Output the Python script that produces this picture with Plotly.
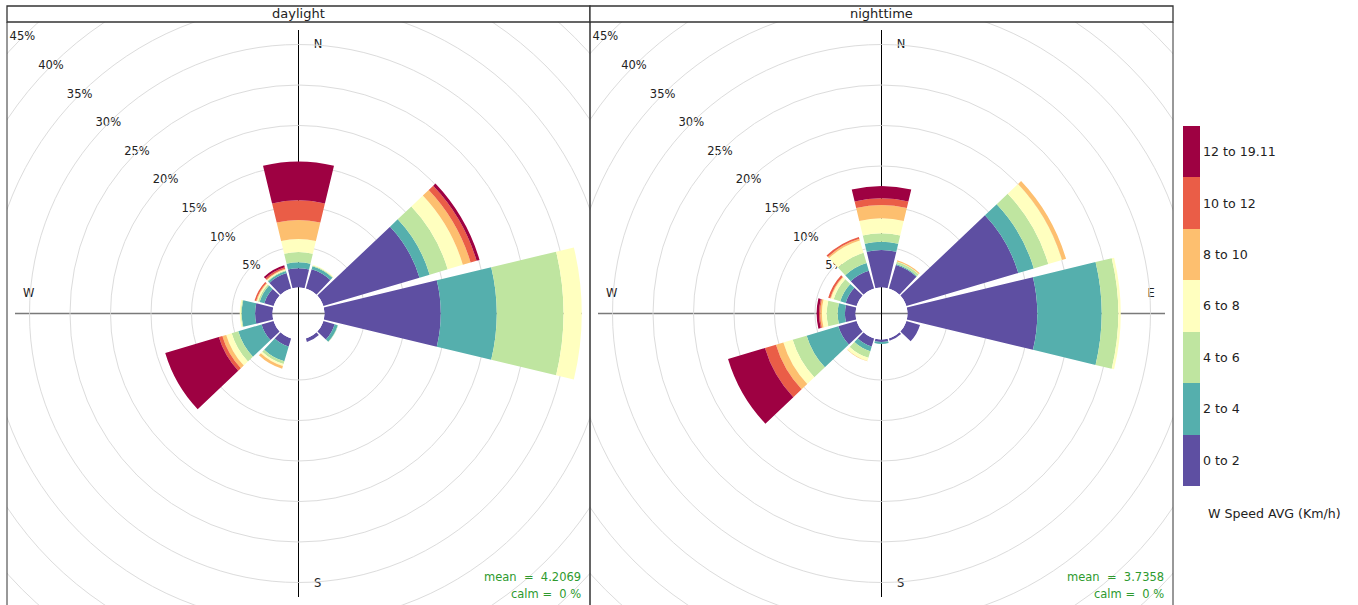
import plotly.graph_objects as go

# ---------------- data ----------------
directions = [30, 60, 90, 120, 150, 180, 210, 240, 270, 300, 330, 360]
speed_bins = ["0 to 2", "2 to 4", "4 to 6", "6 to 8", "8 to 10", "10 to 12", "12 to 19.11"]
bin_colors = ["#5E4FA2", "#55AFAD", "#BFE5A0", "#FFFFBF", "#FDBF6F", "#EA5D47", "#9E0142"]
panels = ["daylight", "nighttime"]
pct_ticks = [5, 10, 15, 20, 25, 30, 35, 40, 45]
mean_text = ["4.2069", "3.7358"]
calm_text = ["0", "0"]

# frequency (%) per direction, one list per speed bin -- daylight
day_0_2 = [2.50, 12.37, 14.35, 1.45, 0.45, 0.00, 1.05, 1.55, 2.15, 1.20, 2.00, 2.37]
day_2_4 = [0.38, 1.31, 6.91, 0.40, 0.00, 0.00, 1.90, 3.00, 1.65, 0.60, 0.25, 0.74]
day_4_6 = [0.10, 2.32, 8.24, 0.05, 0.00, 0.00, 0.35, 0.85, 0.10, 0.20, 0.10, 1.26]
day_6_8 = [0.08, 1.95, 2.25, 0.00, 0.00, 0.00, 0.25, 0.70, 0.15, 0.15, 0.10, 1.62]
day_8_10 = [0.00, 1.00, 0.00, 0.00, 0.00, 0.00, 0.35, 0.50, 0.00, 0.10, 0.10, 2.35]
day_10_12 = [0.00, 0.77, 0.00, 0.00, 0.00, 0.00, 0.00, 0.45, 0.00, 0.20, 0.20, 2.42]
day_12_19 = [0.00, 0.38, 0.00, 0.00, 0.00, 0.00, 0.00, 6.90, 0.00, 0.00, 0.25, 4.80]

# nighttime
night_0_2 = [3.05, 14.40, 16.02, 1.75, 0.30, 0.30, 1.05, 2.35, 1.30, 1.40, 2.30, 4.63]
night_2_4 = [0.10, 2.00, 7.95, 0.00, 0.00, 0.25, 0.60, 4.08, 0.90, 0.70, 1.00, 1.02]
night_4_6 = [0.30, 1.87, 2.05, 0.00, 0.00, 0.00, 0.85, 1.80, 1.35, 0.85, 1.30, 1.04]
night_6_8 = [0.05, 1.76, 0.30, 0.00, 0.00, 0.00, 0.40, 1.20, 0.60, 0.35, 1.60, 1.85]
night_8_10 = [0.15, 0.52, 0.00, 0.00, 0.00, 0.00, 0.05, 0.95, 0.20, 0.10, 0.20, 1.65]
night_10_12 = [0.00, 0.00, 0.00, 0.00, 0.00, 0.00, 0.00, 1.42, 0.15, 0.25, 0.25, 0.81]
night_12_19 = [0.00, 0.00, 0.00, 0.00, 0.00, 0.00, 0.00, 4.75, 0.30, 0.00, 0.00, 1.53]

day_bins = [day_0_2, day_2_4, day_4_6, day_6_8, day_8_10, day_10_12, day_12_19]
night_bins = [night_0_2, night_2_4, night_4_6, night_6_8, night_8_10, night_10_12, night_12_19]
panel_bins = [day_bins, night_bins]

# ---------------- geometry ----------------
W, H = 1358, 605
PX_PER_PCT = 8.1
HOLE_PX = 26.0
R_PX = 291.5
RMAX = (R_PX - HOLE_PX) / PX_PER_PCT
HOLE_PCT = HOLE_PX / PX_PER_PCT
AX_HALF = R_PX / PX_PER_PCT
panel_x = [(7, 590), (590, 1173)]
strip_top, strip_bot = 6, 22
FONT = "DejaVu Sans"
TXT = "#222222"
GRID = "#dcdcdc"


def px(x):
    return x / W


def py(y):
    return 1 - y / H


fig = go.Figure()
ydom = [0, py(strip_bot)]

for k, name in enumerate(panels):
    x0, x1 = panel_x[k]
    xdom = [px(x0), px(x1)]
    sfx = "" if k == 0 else str(k + 1)
    polar_id = "polar" + sfx
    xa, ya = "x" + sfx, "y" + sfx

    # cartesian helper axes (for clipped outer grid circles, axis lines, labels)
    fig.update_layout(**{
        "xaxis" + sfx: dict(domain=xdom, range=[-AX_HALF, AX_HALF], visible=False,
                            fixedrange=True, anchor=ya),
        "yaxis" + sfx: dict(domain=ydom, range=[-AX_HALF, AX_HALF], visible=False,
                            fixedrange=True, anchor=xa),
        polar_id: dict(
            domain=dict(x=xdom, y=ydom),
            hole=HOLE_PX / R_PX,
            bgcolor="rgba(0,0,0,0)",
            barmode="stack",
            radialaxis=dict(range=[0, RMAX], tickvals=[t for t in pct_ticks if t < RMAX],
                            showticklabels=False, ticks="", showline=False,
                            gridcolor=GRID, gridwidth=1),
            angularaxis=dict(rotation=90, direction="clockwise", showgrid=False,
                             showline=False, showticklabels=False, ticks=""),
        ),
    })

    # outer grid circles beyond the polar range (clipped to panel)
    for t in pct_ticks:
        if t >= RMAX:
            r = t + HOLE_PCT
            fig.add_shape(type="circle", xref=xa, yref=ya, x0=-r, x1=r, y0=-r, y1=r,
                          line=dict(color=GRID, width=1), layer="below")
    # axis cross
    fig.add_shape(type="line", xref=xa, yref=ya, x0=-35, x1=35, y0=0, y1=0,
                  line=dict(color="#7a7a7a", width=1.6), layer="below")
    fig.add_shape(type="line", xref=xa, yref=ya, x0=0, x1=0, y0=-35, y1=35,
                  line=dict(color="#000000", width=1), layer="below")

    # percentage labels along 315 deg
    d = 0.70710678
    fig.add_trace(go.Scatter(
        x=[-(t + HOLE_PCT) * d for t in pct_ticks],
        y=[(t + HOLE_PCT) * d for t in pct_ticks],
        text=[f"{t}%" for t in pct_ticks], mode="text", xaxis=xa, yaxis=ya,
        textfont=dict(family=FONT, size=11.5, color=TXT), showlegend=False,
        hoverinfo="skip", cliponaxis=True))
    # compass labels
    fig.add_trace(go.Scatter(
        x=[2.4, 2.35, -33.3, 33.3], y=[33.1, -33.4, 2.35, 2.35],
        text=["N", "S", "W", "E"], mode="text", xaxis=xa, yaxis=ya,
        textfont=dict(family=FONT, size=11.5, color=TXT), showlegend=False,
        hoverinfo="skip", cliponaxis=True))

    # stacked rose bars
    for i, vals in enumerate(panel_bins[k]):
        fig.add_trace(go.Barpolar(
            r=vals, theta=directions, width=[27] * len(directions),
            marker=dict(color=[i + 0.5] * len(directions), coloraxis="coloraxis",
                        line=dict(width=0)),
            subplot=polar_id, name=speed_bins[i], showlegend=False, hoverinfo="skip"))

    # strip
    fig.add_shape(type="rect", xref="paper", yref="paper", x0=px(x0), x1=px(x1),
                  y0=py(strip_bot), y1=py(strip_top), fillcolor="white",
                  line=dict(color="#333333", width=1.3))
    fig.add_annotation(x=px((x0 + x1) / 2), y=py((strip_top + strip_bot) / 2),
                       xref="paper", yref="paper", xanchor="center", yanchor="middle",
                       text=name, showarrow=False,
                       font=dict(family=FONT, size=13, color=TXT))
    # panel borders
    for xx in (x0, x1):
        fig.add_shape(type="line", xref="paper", yref="paper", x0=px(xx), x1=px(xx),
                      y0=py(H + 2), y1=py(strip_bot), line=dict(color="#333333", width=1))

    # mean / calm
    nb = "\u00a0"
    fig.add_annotation(x=px(x1 - 7), y=py(577), xref="paper", yref="paper",
                       xanchor="right", yanchor="middle", showarrow=False,
                       text=f"mean{nb}{nb}={nb}{nb}{mean_text[k]}",
                       font=dict(family=FONT, size=11.5, color="#2e9a2e"))
    fig.add_annotation(x=px(x1 - 7), y=py(594), xref="paper", yref="paper",
                       xanchor="right", yanchor="middle", showarrow=False,
                       text=f"calm{nb}={nb}{nb}{calm_text[k]}{nb}%",
                       font=dict(family=FONT, size=11.5, color="#2e9a2e"))

# discrete colour key
n = len(bin_colors)
cscale = []
for i, c in enumerate(bin_colors):
    cscale.append([i / n, c])
    cscale.append([(i + 1) / n, c])

fig.update_layout(
    coloraxis=dict(
        colorscale=cscale, cmin=0, cmax=n,
        colorbar=dict(
            x=px(1183), xanchor="left", xpad=0, ypad=0,
            y=py(306), yanchor="middle", len=360 / H, lenmode="fraction",
            thickness=17, thicknessmode="pixels", outlinewidth=0,
            tickvals=[i + 0.5 for i in range(n)], ticktext=speed_bins, ticks="",
            tickfont=dict(family=FONT, size=12.6, color=TXT),
        ),
    ),
)
fig.add_annotation(x=px(1206), y=py(513), xref="paper", yref="paper", xanchor="left",
                   yanchor="middle", showarrow=False, text="W Speed AVG (Km/h)",
                   font=dict(family=FONT, size=12.6, color=TXT))

fig.update_layout(
    width=W, height=H, margin=dict(l=0, r=0, t=0, b=0),
    paper_bgcolor="white", plot_bgcolor="white",
    font=dict(family=FONT, color=TXT),
    showlegend=False,
)

fig.write_html("out.html", config={"displayModeBar": False},
               post_script="document.body.style.margin='0';document.body.style.overflow='hidden';")
